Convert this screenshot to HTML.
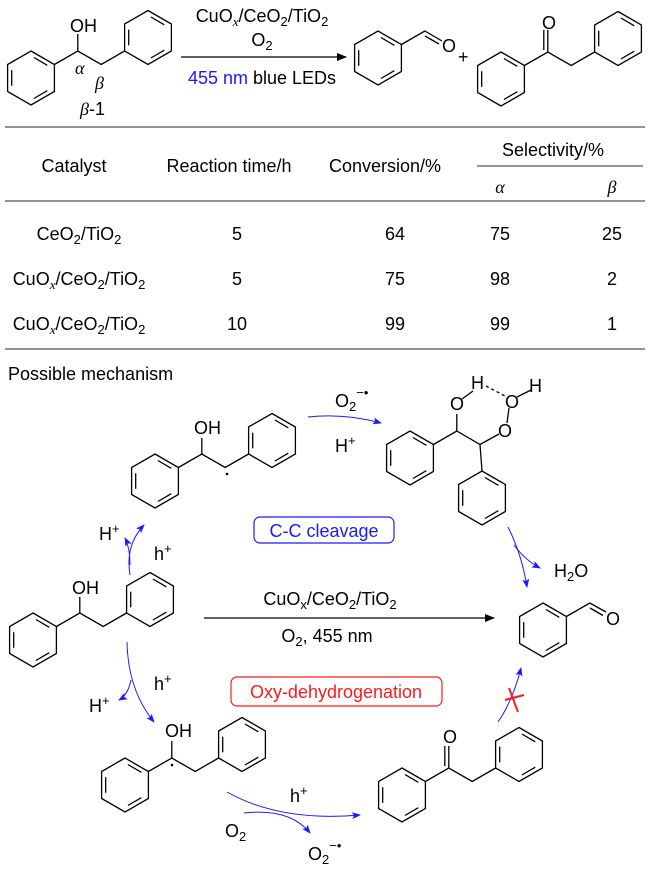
<!DOCTYPE html>
<html><head><meta charset="utf-8"><style>
html,body{margin:0;padding:0;background:#fff;}
svg{display:block;}
text{font-family:"Liberation Sans",sans-serif;font-size:18px;fill:#000;}
.sub{font-size:13px;}
.it{font-family:"Liberation Serif",serif;font-style:italic;}
</style></head><body>
<svg width="650" height="873" viewBox="0 0 650 873" xmlns="http://www.w3.org/2000/svg">
<defs>
<g id="r" fill="none" stroke="#000" stroke-width="1.3">
<polygon points="0,-27 23.4,-13.5 23.4,13.5 0,27 -23.4,13.5 -23.4,-13.5"/>
<line x1="2.9" y1="-20.5" x2="16.3" y2="-12.7"/>
<line x1="16.3" y1="12.7" x2="2.9" y2="20.5"/>
<line x1="-19.3" y1="7.8" x2="-19.3" y2="-7.8"/>
</g>
<marker id="ak" markerWidth="10" markerHeight="8" refX="9" refY="4" orient="auto" markerUnits="userSpaceOnUse"><path d="M0,0 L10,4 L0,8 Z" fill="#000"/></marker>
<marker id="ab" markerWidth="9" markerHeight="7" refX="8" refY="3.5" orient="auto" markerUnits="userSpaceOnUse"><path d="M0,0 L9,3.5 L0,7 L2,3.5 Z" fill="#1a1aff"/></marker>
</defs>

<g stroke="#000" stroke-width="1.3" fill="none">
<polyline points="54.4,64.5 77.8,51 101.2,64.5 124.6,51"/>
<line x1="77.8" y1="51" x2="77.8" y2="34"/>
<polyline points="401.4,44.5 424.8,31 442,41"/>
<line x1="425" y1="36" x2="439" y2="44"/>
<polyline points="524.4,65.5 547.8,52 571.2,65.5 594.6,52"/>
<line x1="547.8" y1="52" x2="547.8" y2="30"/>
<line x1="543.8" y1="50" x2="543.8" y2="30"/>
<polyline points="178.4,467.5 201.8,454 225.2,467.5 248.6,454"/>
<line x1="201.8" y1="454" x2="201.8" y2="438"/>
<polyline points="433.4,444.5 456.8,431 480,444.5 499,434"/>
<line x1="456.8" y1="431" x2="456.8" y2="414"/>
<line x1="480" y1="444.5" x2="482" y2="471"/>
<line x1="462" y1="399" x2="473" y2="391"/>
<line x1="486" y1="386" x2="505" y2="396" stroke-dasharray="3,3"/>
<line x1="517" y1="397" x2="531" y2="390"/>
<line x1="509" y1="408" x2="507" y2="423"/>
<polyline points="56.4,626.5 79.8,613 103.2,626.5 126.6,613"/>
<line x1="79.8" y1="613" x2="79.8" y2="597"/>
<polyline points="566.4,616.5 589.8,603 606,612"/>
<line x1="590" y1="608" x2="603" y2="615.5"/>
<polyline points="148.4,771.5 171.8,758 195.2,771.5 218.6,758"/>
<line x1="171.8" y1="758" x2="171.8" y2="741"/>
<polyline points="425.4,781.5 448.8,768 472.2,781.5 495.6,768"/>
<line x1="448.8" y1="768" x2="448.8" y2="746"/>
<line x1="444.8" y1="766" x2="444.8" y2="746"/>
</g>

<use href="#r" x="31" y="78"/><use href="#r" x="148" y="37.5"/>
<use href="#r" x="378" y="58"/>
<use href="#r" x="501" y="79"/><use href="#r" x="618" y="38.5"/>
<use href="#r" x="155" y="481"/><use href="#r" x="272" y="440.5"/>
<use href="#r" x="410" y="458"/><use href="#r" x="482" y="498"/>
<use href="#r" x="33" y="640"/><use href="#r" x="150" y="599.5"/>
<use href="#r" x="543" y="630"/>
<use href="#r" x="125" y="785"/><use href="#r" x="242" y="744.5"/>
<use href="#r" x="402" y="795"/><use href="#r" x="519" y="754.5"/>

<text x="70" y="32">OH</text>
<text x="75" y="74" class="it">α</text>
<text x="95" y="89" class="it">β</text>
<text x="80" y="115"><tspan class="it">β</tspan>-1</text>
<text x="442" y="52">O</text>
<text x="542" y="29">O</text>
<text x="458" y="63">+</text>
<line x1="181" y1="57" x2="346" y2="57" stroke="#000" stroke-width="1.2" marker-end="url(#ak)"/>
<text x="262" y="22" text-anchor="middle">CuO<tspan class="sub it" dy="4">x</tspan><tspan dy="-4">/CeO</tspan><tspan class="sub" dy="4">2</tspan><tspan dy="-4">/TiO</tspan><tspan class="sub" dy="4">2</tspan></text>
<text x="262" y="46" text-anchor="middle">O<tspan class="sub" dy="4">2</tspan></text>
<text x="262" y="84" text-anchor="middle"><tspan style="fill:#1a1aff">455 nm</tspan> blue LEDs</text>
<line x1="5" y1="127" x2="645" y2="127" stroke="#555" stroke-width="1.2"/>

<text x="74" y="172" text-anchor="middle">Catalyst</text>
<text x="229" y="172" text-anchor="middle">Reaction time/h</text>
<text x="385" y="172" text-anchor="middle">Conversion/%</text>
<text x="553" y="156" text-anchor="middle">Selectivity/%</text>
<line x1="477" y1="166" x2="643" y2="166" stroke="#555" stroke-width="1.2"/>
<text x="500" y="193" text-anchor="middle" class="it">α</text>
<text x="612" y="193" text-anchor="middle" class="it">β</text>
<line x1="5" y1="201" x2="645" y2="201" stroke="#555" stroke-width="1.2"/>
<text x="79" y="240" text-anchor="middle">CeO<tspan class="sub" dy="4">2</tspan><tspan dy="-4">/TiO</tspan><tspan class="sub" dy="4">2</tspan></text>
<text x="237" y="240" text-anchor="middle">5</text><text x="395" y="240" text-anchor="middle">64</text><text x="500" y="240" text-anchor="middle">75</text><text x="612" y="240" text-anchor="middle">25</text>
<text x="79" y="285" text-anchor="middle">CuO<tspan class="sub it" dy="4">x</tspan><tspan dy="-4">/CeO</tspan><tspan class="sub" dy="4">2</tspan><tspan dy="-4">/TiO</tspan><tspan class="sub" dy="4">2</tspan></text>
<text x="237" y="285" text-anchor="middle">5</text><text x="395" y="285" text-anchor="middle">75</text><text x="500" y="285" text-anchor="middle">98</text><text x="612" y="285" text-anchor="middle">2</text>
<text x="79" y="330" text-anchor="middle">CuO<tspan class="sub it" dy="4">x</tspan><tspan dy="-4">/CeO</tspan><tspan class="sub" dy="4">2</tspan><tspan dy="-4">/TiO</tspan><tspan class="sub" dy="4">2</tspan></text>
<text x="237" y="330" text-anchor="middle">10</text><text x="395" y="330" text-anchor="middle">99</text><text x="500" y="330" text-anchor="middle">99</text><text x="612" y="330" text-anchor="middle">1</text>
<line x1="5" y1="349" x2="645" y2="349" stroke="#555" stroke-width="1.2"/>
<text x="8" y="380">Possible mechanism</text>

<text x="194" y="434">OH</text>
<circle cx="227" cy="474" r="1.3" fill="#000"/>
<text x="450" y="410">O</text>
<text x="471" y="389">H</text>
<text x="505" y="408">O</text>
<text x="529" y="392">H</text>
<text x="498" y="437">O</text>
<text x="335" y="407">O<tspan class="sub" dy="4">2</tspan><tspan class="sub" dy="-14">−•</tspan></text>
<text x="335" y="452">H<tspan class="sub" dy="-7">+</tspan></text>
<path d="M308,417 Q345,413 381,423" fill="none" stroke="#1a1aff" stroke-width="1" marker-end="url(#ab)"/>

<rect x="254" y="517" width="140" height="26" rx="6" fill="none" stroke="#1a1aff" stroke-width="1.2"/>
<text x="324" y="537" text-anchor="middle" style="fill:#1a1aff">C-C cleavage</text>

<text x="99" y="540">H<tspan class="sub" dy="-7">+</tspan></text>
<text x="154" y="560">h<tspan class="sub" dy="-7">+</tspan></text>
<path d="M130,575 Q125,545 144,525" fill="none" stroke="#1a1aff" stroke-width="1" marker-end="url(#ab)"/>
<path d="M130,565 Q130,548 125,538" fill="none" stroke="#1a1aff" stroke-width="1" marker-end="url(#ab)"/>

<path d="M508,527 Q522,555 527,587" fill="none" stroke="#1a1aff" stroke-width="1" marker-end="url(#ab)"/>
<path d="M514,545 Q525,560 540,568" fill="none" stroke="#1a1aff" stroke-width="1" marker-end="url(#ab)"/>
<text x="554" y="577">H<tspan class="sub" dy="4">2</tspan><tspan dy="-4">O</tspan></text>

<text x="72" y="594">OH</text>
<line x1="204" y1="618" x2="494" y2="618" stroke="#000" stroke-width="1.2" marker-end="url(#ak)"/>
<text x="330" y="605" text-anchor="middle">CuO<tspan class="sub" dy="4">x</tspan><tspan dy="-4">/CeO</tspan><tspan class="sub" dy="4">2</tspan><tspan dy="-4">/TiO</tspan><tspan class="sub" dy="4">2</tspan></text>
<text x="327" y="642" text-anchor="middle">O<tspan class="sub" dy="4">2</tspan><tspan dy="-4">, 455 nm</tspan></text>
<text x="606" y="625">O</text>

<rect x="231" y="677" width="211" height="29" rx="6" fill="none" stroke="#ff1a1a" stroke-width="1.2"/>
<text x="336" y="698" text-anchor="middle" style="fill:#ff1a1a">Oxy-dehydrogenation</text>
<text x="154" y="690">h<tspan class="sub" dy="-7">+</tspan></text>
<text x="89" y="712">H<tspan class="sub" dy="-7">+</tspan></text>
<path d="M127,642 Q128,690 154,722" fill="none" stroke="#1a1aff" stroke-width="1" marker-end="url(#ab)"/>
<path d="M131,680 Q128,695 119,700" fill="none" stroke="#1a1aff" stroke-width="1" marker-end="url(#ab)"/>

<text x="165" y="737">OH</text>
<circle cx="172" cy="765" r="1.3" fill="#000"/>
<path d="M227,792 Q280,822 360,815" fill="none" stroke="#1a1aff" stroke-width="1" marker-end="url(#ab)"/>
<path d="M244,813 Q290,808 310,833" fill="none" stroke="#1a1aff" stroke-width="1" marker-end="url(#ab)"/>
<text x="290" y="802">h<tspan class="sub" dy="-7">+</tspan></text>
<text x="225" y="837">O<tspan class="sub" dy="4">2</tspan></text>
<text x="308" y="860">O<tspan class="sub" dy="4">2</tspan><tspan class="sub" dy="-14">−•</tspan></text>

<text x="443" y="743">O</text>
<path d="M498,722 Q513,700 521,668" fill="none" stroke="#1a1aff" stroke-width="1" marker-end="url(#ab)"/>
<line x1="505" y1="700" x2="524" y2="695" stroke="#ff1a1a" stroke-width="2"/>
<line x1="509" y1="688" x2="518" y2="712" stroke="#ff1a1a" stroke-width="2"/>
</svg>
</body></html>
